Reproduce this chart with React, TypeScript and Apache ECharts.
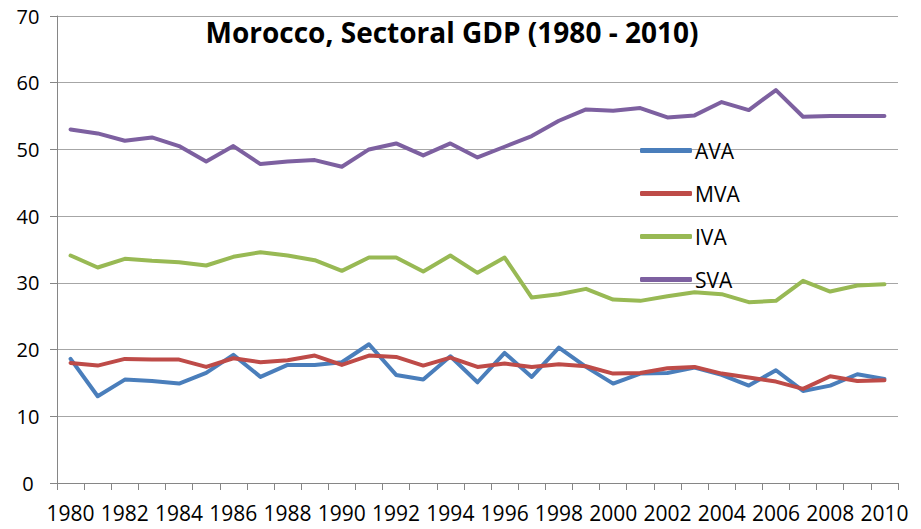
import React, { useEffect, useRef } from "react";
import * as echarts from "echarts";

const years = [
  "1980","1981","1982","1983","1984","1985","1986","1987","1988","1989",
  "1990","1991","1992","1993","1994","1995","1996","1997","1998","1999",
  "2000","2001","2002","2003","2004","2005","2006","2007","2008","2009","2010",
];

const AVA = [
  18.6, 13.0, 15.5, 15.3, 14.9, 16.5, 19.2, 15.9, 17.7, 17.7,
  18.1, 20.8, 16.2, 15.5, 19.0, 15.1, 19.5, 15.9, 20.3, 17.4,
  14.9, 16.4, 16.5, 17.3, 16.2, 14.6, 16.9, 13.8, 14.6, 16.3, 15.6,
];

const MVA = [
  18.0, 17.6, 18.6, 18.5, 18.5, 17.4, 18.7, 18.1, 18.4, 19.1,
  17.7, 19.1, 18.9, 17.6, 18.8, 17.4, 17.9, 17.4, 17.8, 17.5,
  16.4, 16.5, 17.2, 17.4, 16.4, 15.8, 15.2, 14.1, 16.0, 15.3, 15.4,
];

const IVA = [
  34.1, 32.3, 33.6, 33.3, 33.1, 32.6, 33.9, 34.6, 34.1, 33.4,
  31.8, 33.8, 33.8, 31.7, 34.1, 31.5, 33.8, 27.8, 28.3, 29.1,
  27.5, 27.3, 28.0, 28.6, 28.3, 27.1, 27.3, 30.3, 28.7, 29.6, 29.8,
];

const SVA = [
  53.0, 52.4, 51.3, 51.8, 50.5, 48.2, 50.5, 47.8, 48.2, 48.4,
  47.4, 50.0, 50.9, 49.1, 50.9, 48.8, 50.4, 52.0, 54.3, 56.0,
  55.8, 56.2, 54.8, 55.1, 57.1, 55.9, 58.9, 54.9, 55.0, 55.0, 55.0,
];

const seriesNames = ["AVA", "MVA", "IVA", "SVA"];
const seriesColors = ["#4a7ebb", "#be4b48", "#98b954", "#7d60a0"];
const seriesData = [AVA, MVA, IVA, SVA];

const FONT = "'Open Sans', sans-serif";

export default function App() {
  const ref = useRef<HTMLDivElement>(null);

  useEffect(() => {
    if (!ref.current) return;
    const chart = echarts.init(ref.current, undefined, { renderer: "svg" });
    chart.setOption({
      animation: false,
      backgroundColor: "#ffffff",
      grid: { left: 57, right: 23, top: 16, bottom: 46, containLabel: false },
      graphic: [
        {
          type: "text",
          x: 452,
          y: 32,
          style: {
            text: "Morocco, Sectoral GDP (1980 - 2010)",
            font: `bold 28px ${FONT}`,
            fill: "#000000",
            textAlign: "center",
            textVerticalAlign: "middle",
          },
          z: 10,
        },
      ],
      legend: {
        orient: "vertical",
        left: 635,
        top: 135,
        itemWidth: 52,
        itemHeight: 5,
        itemGap: 22,
        icon: "roundRect",
        textStyle: { fontFamily: FONT, fontSize: 21, color: "#000000", padding: [0, 0, 0, -2] },
        data: seriesNames,
      },
      xAxis: {
        type: "category",
        data: years,
        boundaryGap: true,
        axisLine: { show: true, lineStyle: { color: "#868686", width: 1 } },
        axisTick: { show: true, interval: 0, length: 7, lineStyle: { color: "#868686" } },
        axisLabel: {
          interval: 1,
          fontFamily: FONT,
          fontSize: 21,
          color: "#000000",
          margin: 19,
        },
        splitLine: { show: false },
      },
      yAxis: {
        type: "value",
        min: 0,
        max: 70,
        interval: 10,
        axisLine: { show: true, lineStyle: { color: "#868686", width: 1 } },
        axisTick: { show: true, length: 7, lineStyle: { color: "#868686" } },
        axisLabel: {
          fontFamily: FONT,
          fontSize: 20,
          color: "#000000",
          align: "center",
          margin: 29,
        },
        splitLine: { show: true, lineStyle: { color: "#a6a6a6", width: 1 } },
      },
      series: seriesNames.map((name, i) => ({
        name,
        type: "line",
        data: seriesData[i],
        symbol: "none",
        color: seriesColors[i],
        lineStyle: { width: 4, color: seriesColors[i], cap: "round", join: "round" },
      })),
    });
    return () => chart.dispose();
  }, []);

  return (
    <div
      ref={ref}
      style={{ position: "fixed", left: 0, top: 0, width: 921, height: 529 }}
    />
  );
}
